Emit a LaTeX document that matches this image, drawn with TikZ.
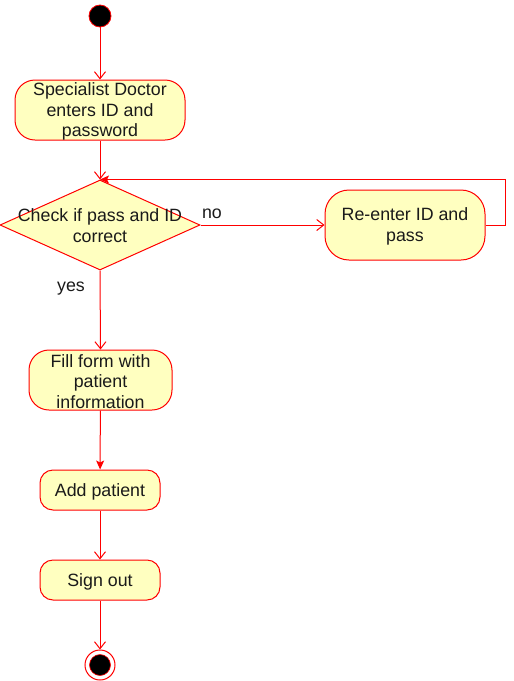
\documentclass[tikz,border=0pt]{standalone}
\usepackage{fontspec}
\setmainfont{Liberation Sans}
\usetikzlibrary{arrows.meta,shapes.geometric}
\definecolor{fillc}{HTML}{FFFFC0}
\definecolor{linec}{HTML}{FF0000}
\definecolor{txtc}{HTML}{1A1A1A}
\begin{document}
\begin{tikzpicture}[x=1pt,y=-1pt,
  lbl/.style={text=txtc, align=center, inner sep=0pt, font=\fontsize{17.8}{20.8}\selectfont},
  act/.style={draw=linec, fill=fillc, line width=1pt, inner sep=0pt},
  dia/.style={diamond, draw=linec, fill=fillc, line width=1pt, inner sep=0pt, minimum width=200pt, minimum height=90pt},
  flow/.style={draw=linec, line width=1pt},
  openarr/.style={flow, -{Straight Barb[length=7pt,width=11pt]}},
  fillarr/.style={flow, -{Stealth[length=9pt,width=8pt,inset=2pt]}},
]
\useasboundingbox (0,0) rectangle (514,681);
% start
\node[circle, draw=linec, fill=black, line width=0.8pt, minimum size=22pt, inner sep=0pt] (s) at (100,16) {};
% activities
\node[act, rounded corners=20pt, minimum width=170pt, minimum height=60pt] (b1) at (100,110) {};
\node[lbl] (b1t) at (100,111.5) {Specialist Doctor\\enters ID and\\password};
\node[dia] (d) at (100,225) {};
\node[lbl] (dt) at (100,226) {Check if pass and ID\\correct};
\node[act, rounded corners=24pt, minimum width=160pt, minimum height=70pt] (r) at (405,225) {};
\node[lbl] (rt) at (405,226) {Re-enter ID and\\pass};
\node[act, rounded corners=20pt, minimum width=143pt, minimum height=60pt] (f) at (100.5,380) {};
\node[lbl] (ft) at (100.5,381.5) {Fill form with\\patient\\information};
\node[act, rounded corners=13pt, minimum width=120pt, minimum height=40pt] (a) at (100,490) {};
\node[lbl] (at) at (100,491.5) {Add patient};
\node[act, rounded corners=13pt, minimum width=120pt, minimum height=40pt] (so) at (100,580) {};
\node[lbl] (sot) at (100,581.5) {Sign out};
% end
\node[circle, draw=linec, fill=white, line width=1pt, minimum size=30pt, inner sep=0pt] (e) at (100,665) {};
\node[circle, draw=linec, fill=black, line width=0.6pt, minimum size=21pt, inner sep=0pt] (ei) at (100,665) {};
% labels
\node[lbl] (no) at (212,214) {no};
\node[lbl] (yes) at (71,288.5) {yes};
% connectors
\draw[openarr] (s) -- (b1);
\draw[openarr] (b1) -- (d.north);
\draw[openarr] (d.east) -- (r.west);
\draw[fillarr] (r.east) -- ++(20,0) |- (d.north);
\draw[openarr] (d.south) -- (f.north);
\draw[fillarr] (f) -- (a);
\draw[openarr] (a) -- (so);
\draw[openarr] (so) -- (e);
\end{tikzpicture}
\end{document}
